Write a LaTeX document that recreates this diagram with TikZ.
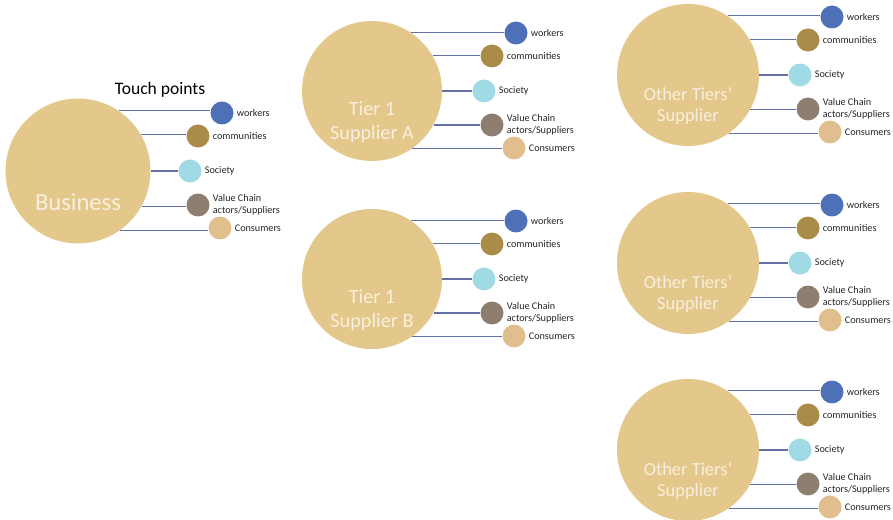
\documentclass[tikz,border=0pt]{standalone}
\usepackage{fontspec}
\setmainfont{Carlito}
\definecolor{hubtan}{RGB}{228,199,138}
\definecolor{hubtext}{RGB}{248,240,222}
\definecolor{wkblue}{RGB}{78,112,182}
\definecolor{comolive}{RGB}{170,140,72}
\definecolor{soccyan}{RGB}{160,218,228}
\definecolor{vcgrey}{RGB}{142,126,112}
\definecolor{contan}{RGB}{224,190,142}
\definecolor{linkcol}{RGB}{100,112,164}

% one actor with its five touch points
\newcommand{\tpgroup}[7]{%
  \node[hub,minimum size=#4] (#1) at (#2,#3) {};
  \node[hubtxt,font=\fontsize{#6}{#7}\selectfont] (#1t) at ([shift={(0,31)}]#1.center) {#5};
  \node[tp,fill=wkblue] (#1w) at ([shift={(144,-58)}]#1.center) {};
  \node[tp,fill=comolive] (#1c) at ([shift={(120,-35)}]#1.center) {};
  \node[tp,fill=soccyan] (#1s) at ([shift={(112,0)}]#1.center) {};
  \node[tp,fill=vcgrey] (#1v) at ([shift={(120,34)}]#1.center) {};
  \node[tp,fill=contan] (#1k) at ([shift={(142,57)}]#1.center) {};
  \node[lbl] (#1wl) at (#1w.east) {workers};
  \node[lbl] (#1cl) at (#1c.east) {communities};
  \node[lbl] (#1sl) at (#1s.east) {Society};
  \node[lbl] (#1vl) at (#1v.east) {Value Chain\\actors/Suppliers};
  \node[lbl] (#1kl) at (#1k.east) {Consumers};
  \draw[link] (#1.56) -- (#1.56 -| #1w.west);
  \draw[link] (#1.30) -- (#1.30 -| #1c.west);
  \draw[link] (#1.0) -- (#1.0 -| #1s.west);
  \draw[link] (#1.-29) -- (#1.-29 -| #1v.west);
  \draw[link] (#1.-55) -- (#1.-55 -| #1k.west);
}

\begin{document}
\begin{tikzpicture}[x=0.02cm,y=-0.02cm]
  \tikzset{hub/.style = {circle,fill=hubtan,inner sep=0pt}}
  \tikzset{hubtxt/.style = {text=hubtext,align=center,inner sep=0pt}}
  \tikzset{tp/.style = {circle,minimum size=0.46cm,inner sep=0pt}}
  \tikzset{lbl/.style = {anchor=west,align=left,inner sep=1.5pt,text=black!85,font=\fontsize{5.8}{6.6}\selectfont}}
  \tikzset{link/.style = {draw=linkcol,line width=0.7pt}}
  \useasboundingbox (0,0) rectangle (893,520);

  \node[font=\fontsize{10}{12}\selectfont] (touch) at (160,90) {Touch points};

  \tpgroup{bus}{78}{171}{2.9cm}{Business}{14}{17}
  \tpgroup{ta}{372}{91}{2.8cm}{Tier 1\\Supplier A}{11.5}{14}
  \tpgroup{tb}{372}{279}{2.8cm}{Tier 1\\Supplier B}{11.5}{14}
  \tpgroup{oa}{688}{75}{2.84cm}{Other Tiers'\\Supplier}{10.5}{12.5}
  \tpgroup{ob}{688}{263}{2.84cm}{Other Tiers'\\Supplier}{10.5}{12.5}
  \tpgroup{oc}{688}{450}{2.84cm}{Other Tiers'\\Supplier}{10.5}{12.5}
\end{tikzpicture}
\end{document}
